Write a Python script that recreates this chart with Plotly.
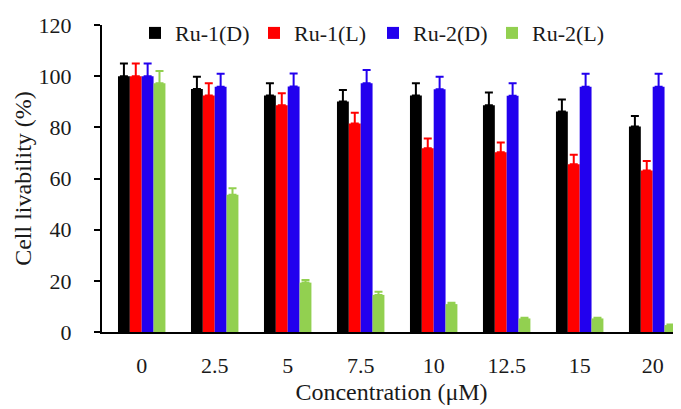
import plotly.graph_objects as go

# data
concentrations = ["0", "2.5", "5", "7.5", "10", "12.5", "15", "20"]
series_names = ["Ru-1(D)", "Ru-1(L)", "Ru-2(D)", "Ru-2(L)"]
ru1_d = [100, 95, 92.4, 90.1, 92.4, 88.6, 86.2, 80.3]
ru1_d_err = [5, 4.8, 4.8, 4.5, 4.8, 5, 4.7, 4.1]
ru1_l = [100, 92.4, 88.6, 81.5, 71.8, 70.3, 65.6, 63.1]
ru1_l_err = [5, 4.8, 4.7, 4.2, 3.8, 3.8, 3.7, 3.7]
ru2_d = [100, 95.9, 96, 97.2, 94.9, 92.3, 95.9, 95.9]
ru2_d_err = [5, 5, 5, 5.2, 4.9, 4.9, 5, 5]
ru2_l = [97.2, 53.6, 19.3, 14.5, 10.9, 5.3, 5.3, 2.7]
ru2_l_err = [4.8, 2.6, 1, 1.2, 0.5, 0.3, 0.3, 0.2]

values = [ru1_d, ru1_l, ru2_d, ru2_l]
errors = [ru1_d_err, ru1_l_err, ru2_d_err, ru2_l_err]
colors = ["#000000", "#FF0000", "#2200EE", "#92D050"]

FONT = "Liberation Serif"

fig = go.Figure()
for name, vals, errs, col in zip(series_names, values, errors, colors):
    fig.add_trace(go.Bar(
        x=concentrations, y=vals, name=name,
        marker=dict(color=col, line=dict(width=0)),
        error_y=dict(type="data", symmetric=False, array=errs,
                     arrayminus=[0] * len(errs), color=col,
                     thickness=2, width=4),
    ))

# the page body adds an 8px margin, so the figure is 8px smaller than the window
fig.update_layout(
    width=673, height=401,
    margin=dict(l=94, r=0, t=17, b=77),
    paper_bgcolor="white", plot_bgcolor="white",
    barmode="group", bargap=0.35, bargroupgap=0,
    font=dict(family=FONT, size=22, color="#1a1a1a"),
    legend=dict(orientation="h", x=0.057, y=1.042, xanchor="left", yanchor="top",
                font=dict(size=22), entrywidth=74, bgcolor="rgba(0,0,0,0)"),
    xaxis=dict(range=[-0.544, 7.388], showline=True, linecolor="black", linewidth=2,
               ticks="", ticklabelstandoff=13, automargin=False,
               title=dict(text="Concentration (μM)", font=dict(size=24), standoff=6)),
    yaxis=dict(range=[0, 120], dtick=20, showline=True, linecolor="black", linewidth=2,
               ticks="outside", ticklen=6, tickwidth=2, tickcolor="black",
               showgrid=False, zeroline=False, ticklabelstandoff=18, automargin=False,
               title=dict(text="Cell livability (%)", font=dict(size=24), standoff=0)),
)

fig.write_html("out.html")
